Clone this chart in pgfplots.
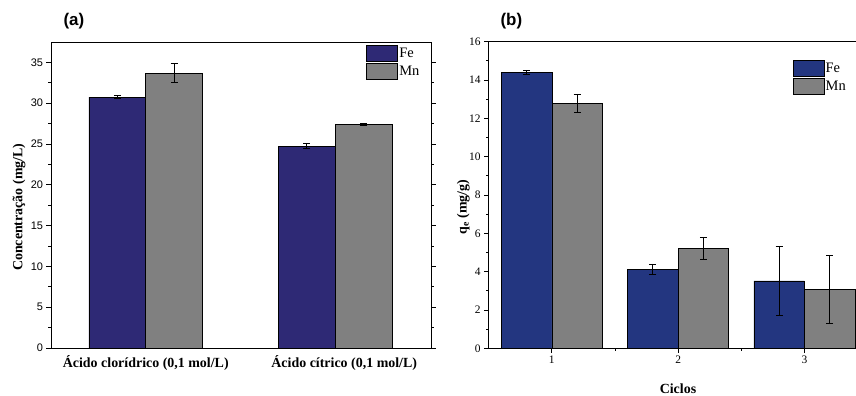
\documentclass[border=0pt]{standalone}
\usepackage{fontspec}
\setmainfont{Liberation Serif}
\setsansfont{Liberation Sans}
\usepackage{pgfplots}
\pgfplotsset{compat=1.18}
\definecolor{feA}{RGB}{46,41,117}
\definecolor{feB}{RGB}{35,54,128}
\definecolor{mnG}{RGB}{128,128,128}
\pgfplotsset{
  errstyle/.style={
    error bars/.cd, y dir=both, y explicit,
    error bar style={black, line width=0.8bp},
    error mark options={rotate=90, mark size=3.5bp, line width=0.8bp, black}
  },
  common/.style={
    scale only axis,
    tick align=outside,
    axis line style={line width=0.8bp, black},
    every tick/.style={black, line width=0.8bp},
    major tick length=4.5bp, minor tick length=2.5bp,
    /pgf/number format/assume math mode=true,
    legend image code/.code={\draw[##1] (0bp,-7.8bp) rectangle (31bp,7.8bp);},
    legend style={draw=none, fill=none, inner sep=0pt, row sep=2bp,
      nodes={inner sep=1.5bp}, cells={anchor=west},
      font=\fontsize{14.5}{14.5}\selectfont},
  },
}
\begin{document}
\begin{tikzpicture}
\path[use as bounding box] (0,0) rectangle (856bp,396bp);
% ---------- panel (a)
\begin{axis}[common,
  at={(51bp,48bp)}, anchor=south west, width=380bp, height=306bp,
  xmin=-0.5, xmax=1.5053, ymin=0, ymax=37.5,
  xtick={0,1},
  xticklabels={{Ácido clorídrico (0,1 mol/L)},{\hspace*{18bp}Ácido cítrico (0,1 mol/L)}},
  xtick style={draw=none},
  xticklabel style={font=\fontsize{14}{14}\selectfont\bfseries},
  ytick={0,5,...,35}, minor y tick num=1,
  yticklabel style={font=\sffamily\fontsize{11}{11}\selectfont},
  ylabel={\textbf{Concentração (mg/L)}},
  every axis y label/.style={at={(axis description cs:-0.084,0.46)}, rotate=90, anchor=center, font=\fontsize{14}{14}\selectfont},
  legend style={at={(0.829,0.99)}, anchor=north west},
]
\addplot[ybar, bar width=0.3, bar shift=0pt, fill=feA, draw=black, line width=0.6bp, errstyle]
  coordinates {(-0.15,30.75) +- (0,0.2) (0.85,24.75) +- (0,0.35)};
\addlegendentry{Fe}
\addplot[ybar, bar width=0.3, bar shift=0pt, fill=mnG, draw=black, line width=0.6bp, errstyle]
  coordinates {(0.15,33.7) +- (0,1.15) (1.15,27.4) +- (0,0.15)};
\addlegendentry{Mn}
\end{axis}
\node[anchor=west, font=\sffamily\bfseries\fontsize{17}{17}\selectfont] at (60bp,375bp) {(a)};
% ---------- panel (b)
\begin{axis}[common,
  at={(488.7bp,47.7bp)}, anchor=south west, width=369bp, height=306.6bp,
  xmin=0.5, xmax=3.4216, ymin=0, ymax=16,
  xtick={1,2,3}, minor x tick num=1, xtick pos=left,
  ytick={0,2,...,16}, minor y tick num=1, ytick pos=left,
  ticklabel style={font=\fontsize{11.5}{11.5}\selectfont},
  ylabel={\textbf{q\textsubscript{e} (mg/g)}},
  every axis y label/.style={at={(axis description cs:-0.069,0.46)}, rotate=90, anchor=center, font=\fontsize{14}{14}\selectfont},
  xlabel={\textbf{Ciclos}},
  every axis x label/.style={at={(axis description cs:0.513,-0.133)}, anchor=center, font=\fontsize{14}{14}\selectfont},
  legend style={at={(0.823,0.94)}, anchor=north west},
]
\addplot[ybar, bar width=0.4, bar shift=0pt, fill=feB, draw=black, line width=0.6bp, errstyle]
  coordinates {(0.8,14.4) +- (0,0.1) (1.8,4.12) +- (0,0.28) (2.8,3.52) +- (0,1.8)};
\addlegendentry{Fe}
\addplot[ybar, bar width=0.4, bar shift=0pt, fill=mnG, draw=black, line width=0.6bp, errstyle]
  coordinates {(1.2,12.77) +- (0,0.47) (2.2,5.21) +- (0,0.57) (3.2,3.08) +- (0,1.78)};
\addlegendentry{Mn}
\end{axis}
\node[anchor=west, font=\sffamily\bfseries\fontsize{17}{17}\selectfont] at (497bp,375bp) {(b)};
\end{tikzpicture}
\end{document}
